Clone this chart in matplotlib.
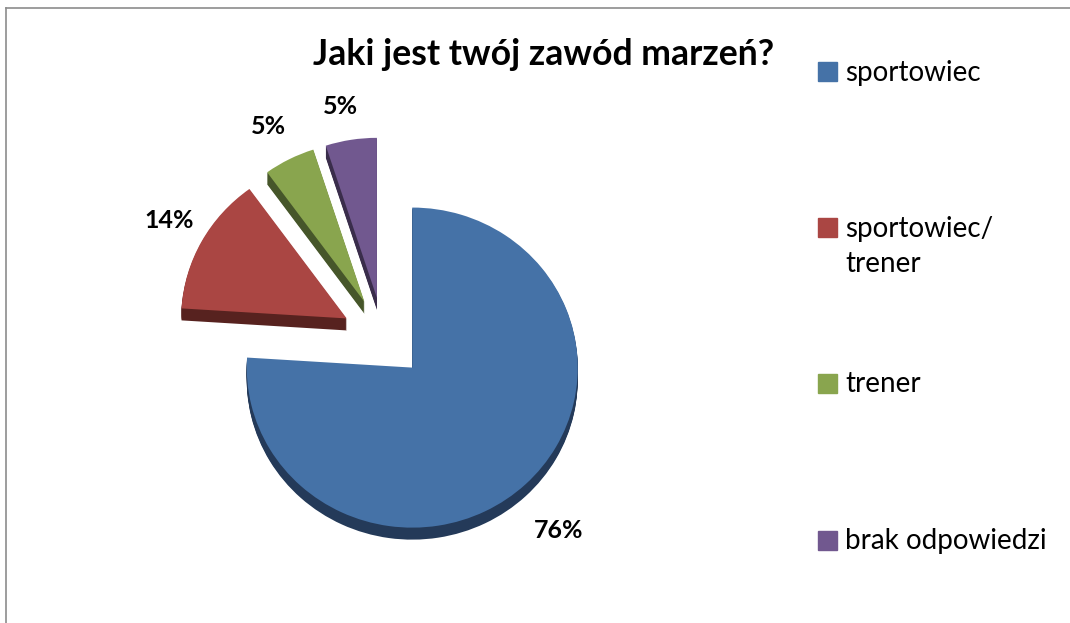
import matplotlib
matplotlib.use("Agg")
from matplotlib import pyplot as plt
from matplotlib.patches import Rectangle
from matplotlib.lines import Line2D

categories = ['sportowiec', 'sportowiec/\ntrener', 'trener', 'brak odpowiedzi']
values = [76, 14, 5, 5]
colors = ['#4572A7', '#AA4643', '#89A54E', '#71588F']
side_colors = ['#243A59', '#57221F', '#46562A', '#3A2D4B']

W, H = 1070, 623
ky = 0.967  # slight vertical squash (3D tilt)

plt.rcParams['font.family'] = ['Lato', 'DejaVu Sans']

fig = plt.figure(figsize=(W / 100, H / 100), dpi=100)
ax = fig.add_axes([0, 0, 1, 1])


def py(y):
    # pixel row -> data y
    return (H - y) / ky


cx, cy = 383.5, py(338)
R = 165.5
expl = [42] * len(values)
depth = 12

# side of the 3D pie: darker copies shifted downwards
for d in range(depth, 0, -1):
    ax.pie(values, colors=side_colors, startangle=90, counterclock=False,
           radius=R, center=(cx, cy - d / ky), explode=expl,
           wedgeprops=dict(linewidth=0))
ax.pie(values, colors=colors, startangle=90, counterclock=False,
       radius=R, center=(cx, cy), explode=expl,
       wedgeprops=dict(linewidth=0))

ax.set_aspect('auto')
ax.set_xlim(0, W)
ax.set_ylim(0, H / ky)
ax.axis('off')

# border of the chart area (cut at right/bottom)
fig.add_artist(Line2D([6 / W, 6 / W], [0, 1 - 8 / H], color='#8c8c8c', lw=1.2))
fig.add_artist(Line2D([6 / W, 1], [1 - 8 / H, 1 - 8 / H], color='#8c8c8c', lw=1.2))

fig.text(544 / W, 1 - 65 / H, 'Jaki jest twój zawód marzeń?', fontsize=25.7,
         fontweight='bold', ha='center', va='baseline')

# data labels
label_pos = [(559, 530), (169, 221), (268, 127), (340, 107)]
for v, (lx, ly) in zip(values, label_pos):
    fig.text(lx / W, 1 - ly / H, f'{v}%', fontsize=18, fontweight='bold',
             ha='center', va='center')

# legend
leg_y = [71.5, 227.5, 383.5, 540]
for cat, col, ly in zip(categories, colors, leg_y):
    fig.add_artist(Rectangle((818 / W, 1 - (ly + 9.5) / H), 19 / W, 19 / H,
                             color=col, transform=fig.transFigure))
    for i, line in enumerate(cat.split('\n')):
        fig.text(845 / W, 1 - (ly + 9 + i * 35.5) / H, line, fontsize=20,
                 ha='left', va='baseline')

fig.savefig('out.png', dpi=100)
